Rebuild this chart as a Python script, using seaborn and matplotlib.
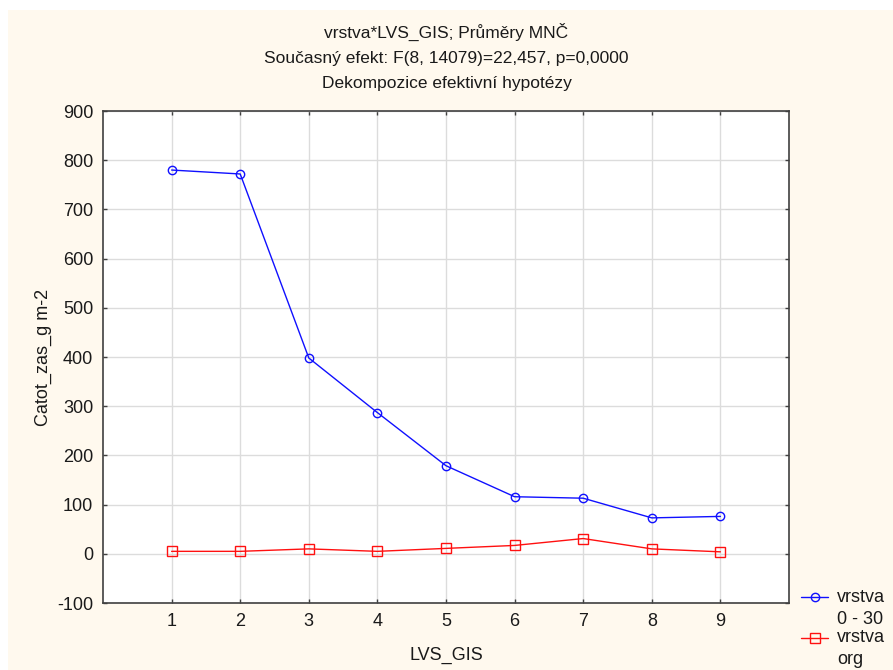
import matplotlib
matplotlib.use("Agg")
import matplotlib.pyplot as plt
import seaborn as sns
import pandas as pd
import numpy as np
from matplotlib.patches import Rectangle

lvs = [1, 2, 3, 4, 5, 6, 7, 8, 9]
vrstva_0_30 = [780, 772, 398, 287, 179, 116, 113, 73, 76]
vrstva_org = [5, 5, 10, 5, 11, 17, 31, 10, 4]
series_labels = ["vrstva\n0 - 30", "vrstva\norg"]
title = "vrstva*LVS_GIS; Průměry MNČ\nSoučasný efekt: F(8, 14079)=22,457, p=0,0000\nDekompozice efektivní hypotézy"

df = pd.DataFrame({
    "LVS_GIS": lvs * 2,
    "value": vrstva_0_30 + vrstva_org,
    "vrstva": [series_labels[0]] * len(lvs) + [series_labels[1]] * len(lvs),
})

sns.set_style("white")
plt.rcParams["font.family"] = ["Liberation Sans", "DejaVu Sans"]
plt.rcParams["axes.unicode_minus"] = False

fig = plt.figure(figsize=(8.93, 6.70), dpi=100, facecolor="white")
fig.patches.append(Rectangle((8 / 893, 0), 1, 1 - 10 / 670, transform=fig.transFigure,
                             facecolor="#FFF9EE", edgecolor="none", zorder=-10))
ax = fig.add_axes([103 / 893, 1 - 603 / 670, (789 - 103) / 893, (603 - 111) / 670])
ax.set_facecolor("white")

colors = ["#1010FF", "#FF1010"]
markers = ["o", "s"]
for lab, col, mk in zip(series_labels, colors, markers):
    sub = df[df["vrstva"] == lab]
    sns.lineplot(data=sub, x="LVS_GIS", y="value", ax=ax, color=col, marker=mk,
                 markersize=7 if mk == "s" else 6, markerfacecolor="none",
                 markeredgecolor=col, markeredgewidth=1.0, linewidth=1.0,
                 label=lab, legend=False)

ax.set_xlim(0, 10)
ax.set_ylim(-100, 900)
ax.set_xticks(lvs)
ax.set_yticks(range(-100, 901, 100))
ax.grid(True, color="#DCDCDC", linewidth=1.0)
ax.set_axisbelow(True)
for s in ax.spines.values():
    s.set_color("#404040")
    s.set_linewidth(1.2)
ax.tick_params(direction="in", length=3, width=1, labelsize=13, colors="#404040",
               labelcolor="#1a1a1a", top=True, right=True, left=True, bottom=True, pad=7)
ax.set_xlabel("LVS_GIS", fontsize=13, color="#1a1a1a", labelpad=12)
ax.set_ylabel("Catot_zas_g m-2", fontsize=13, color="#1a1a1a", labelpad=4)

fig.text(0.5, 1 - 57 / 670, title, ha="center", va="center", fontsize=12.5,
         linespacing=1.85, color="#1a1a1a")

handles = ax.lines[:2]
leg = fig.legend(handles, series_labels, loc="upper left",
                 bbox_to_anchor=(801 / 893, 1 - 589 / 670), frameon=False,
                 fontsize=13, handlelength=1.5, handletextpad=0.5,
                 labelspacing=0.1, borderpad=0, borderaxespad=0)
for t in leg.get_texts():
    t.set_color("#1a1a1a")
    t.set_linespacing(1.35)
# align each legend handle with the first line of its two-line label
for ln in leg.get_lines():
    ln.set_ydata(np.asarray(ln.get_ydata(), dtype=float) + 8)

fig.savefig("out.png", dpi=100, facecolor=fig.get_facecolor())
